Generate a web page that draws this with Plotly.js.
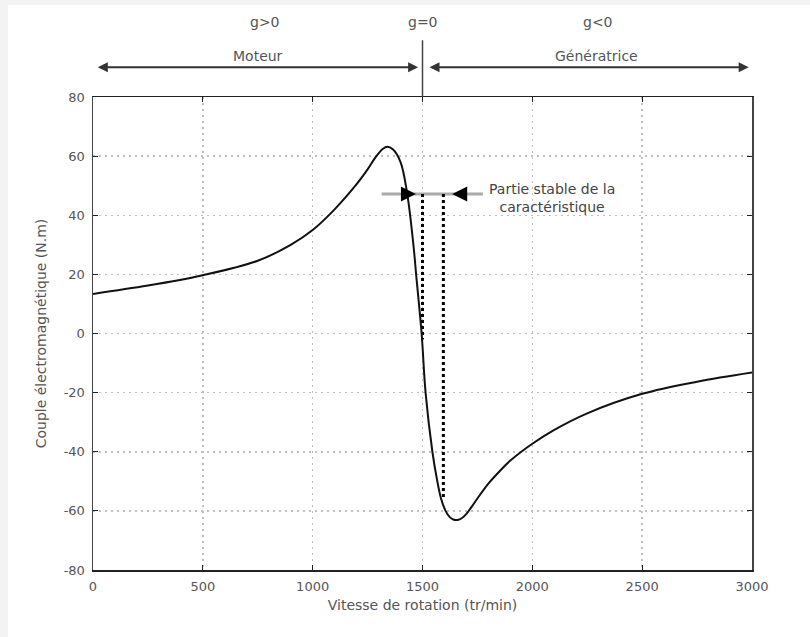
<!DOCTYPE html>
<html>
<head>
<meta charset="utf-8">
<script src="https://cdn.plot.ly/plotly-3.0.1.min.js"></script>
<style>
html,body{margin:0;padding:0;background:#f3f3f3;}
#chart{position:absolute;left:8px;top:5px;width:802px;height:632px;background:#fff;}
</style>
</head>
<body>
<div id="chart"></div>
<script>
// Torque-speed characteristic
var speed  = [0, 250, 500, 750, 900, 1000, 1100, 1200, 1250, 1290, 1320, 1340, 1365, 1400, 1430, 1460, 1471, 1496, 1514, 1545, 1565, 1585, 1605, 1625, 1640, 1660, 1680, 1700, 1725, 1750, 1800, 1850, 1900, 2000, 2100, 2250, 2500, 2750, 3000];
var torque = [13.4, 16.2, 19.7, 24.6, 30, 35, 42, 50.5, 55.5, 60, 62.5, 63.2, 62.3, 58, 47.5, 29, 20, 0, -20, -40, -49, -56, -60, -62.2, -62.9, -63.1, -62.4, -61, -58.5, -55.8, -50.8, -46.7, -43, -37.3, -32.6, -27, -20.4, -16.3, -13.2];

// Stable-region markers
var stableLevel = 47.2;
var stableBandX = [1314, 1775];
var stableLineX = [1500, 1595];
var stableLineBottom = [-2, -56];

var xTicks = [0, 500, 1000, 1500, 2000, 2500, 3000];
var yTicks = [-80, -60, -40, -20, 0, 20, 40, 60, 80];

var traces = [
  {x: stableBandX, y: [stableLevel, stableLevel], mode: 'lines', line: {color: '#aaaaaa', width: 3}, hoverinfo: 'skip'},
  {x: [stableLineX[0], stableLineX[0]], y: [stableLevel, stableLineBottom[0]], mode: 'lines', line: {color: '#000', width: 3, dash: 'dot'}, hoverinfo: 'skip'},
  {x: [stableLineX[1], stableLineX[1]], y: [stableLevel, stableLineBottom[1]], mode: 'lines', line: {color: '#000', width: 3, dash: 'dot'}, hoverinfo: 'skip'},
  {x: speed, y: torque, mode: 'lines', line: {color: '#111', width: 2, shape: 'spline', smoothing: 1}}
];

var gray = '#555';
var FAM = 'DejaVu Sans, Verdana, sans-serif';
var fnt = {family: FAM, size: 14, color: gray};
var tickFnt = {family: FAM, size: 13, color: gray};

var layout = {
  width: 802, height: 632,
  margin: {l: 85, r: 58, t: 92, b: 67},
  paper_bgcolor: '#fff', plot_bgcolor: '#fff',
  showlegend: false,
  font: fnt,
  xaxis: {
    range: [0, 3000], tickvals: xTicks, ticktext: xTicks.map(String),
    showgrid: true, gridcolor: '#c0c0c0', griddash: '2px,4px', gridwidth: 1.5,
    zeroline: false, showline: true, linecolor: '#222', linewidth: 1.5, mirror: 'ticks',
    ticks: 'inside', ticklen: 5, tickcolor: '#222', ticklabelstandoff: 4,
    tickfont: tickFnt,
    title: {text: 'Vitesse de rotation (tr/min)', font: fnt, standoff: 7}
  },
  yaxis: {
    range: [-80, 80], tickvals: yTicks, ticktext: yTicks.map(String),
    showgrid: true, gridcolor: '#c0c0c0', griddash: '2px,4px', gridwidth: 1.5,
    zeroline: false, showline: true, linecolor: '#444', linewidth: 1.5, mirror: 'ticks',
    ticks: 'inside', ticklen: 5, tickcolor: '#222', ticklabelstandoff: 4,
    tickfont: tickFnt,
    title: {text: 'Couple électromagnétique (N.m)', font: fnt, standoff: 14}
  },
  shapes: [
    {type: 'line', xref: 'x', yref: 'paper', x0: 1500, x1: 1500, y0: 1, y1: 1.12, line: {color: '#444', width: 1.5}}
  ],
  annotations: [
    {xref: 'x', yref: 'paper', x: 783, y: 1.18, text: 'g>0', showarrow: false, font: fnt},
    {xref: 'x', yref: 'paper', x: 1500, y: 1.18, text: 'g=0', showarrow: false, font: fnt},
    {xref: 'x', yref: 'paper', x: 2300, y: 1.18, text: 'g<0', showarrow: false, font: fnt},
    {xref: 'x', yref: 'paper', x: 751, y: 1.108, text: 'Moteur', showarrow: false, font: fnt},
    {xref: 'x', yref: 'paper', x: 2294, y: 1.108, text: 'Génératrice', showarrow: false, font: fnt},
    {xref: 'x', yref: 'paper', axref: 'x', ayref: 'paper', x: 1480, y: 1.063, ax: 15, ay: 1.063,
     text: '', showarrow: true, arrowside: 'end+start', arrowhead: 2, arrowsize: 1, arrowwidth: 2, arrowcolor: '#333'},
    {xref: 'x', yref: 'paper', axref: 'x', ayref: 'paper', x: 2985, y: 1.063, ax: 1525, ay: 1.063,
     text: '', showarrow: true, arrowside: 'end+start', arrowhead: 2, arrowsize: 1, arrowwidth: 2, arrowcolor: '#333'},
    {xref: 'x', yref: 'y', x: 1470, y: stableLevel, ax: -14, ay: 0, text: '', showarrow: true,
     arrowhead: 2, arrowsize: 1, arrowwidth: 3, arrowcolor: '#000'},
    {xref: 'x', yref: 'y', x: 1635, y: stableLevel, ax: 14, ay: 0, text: '', showarrow: true,
     arrowhead: 2, arrowsize: 1, arrowwidth: 3, arrowcolor: '#000'},
    {xref: 'x', yref: 'y', x: 2090, y: 45.8, yanchor: 'middle', text: 'Partie stable de la<br>caractéristique',
     showarrow: false, font: {family: FAM, size: 14, color: '#444'}}
  ]
};

Plotly.newPlot('chart', traces, layout, {displayModeBar: false, staticPlot: true});
</script>
</body>
</html>
